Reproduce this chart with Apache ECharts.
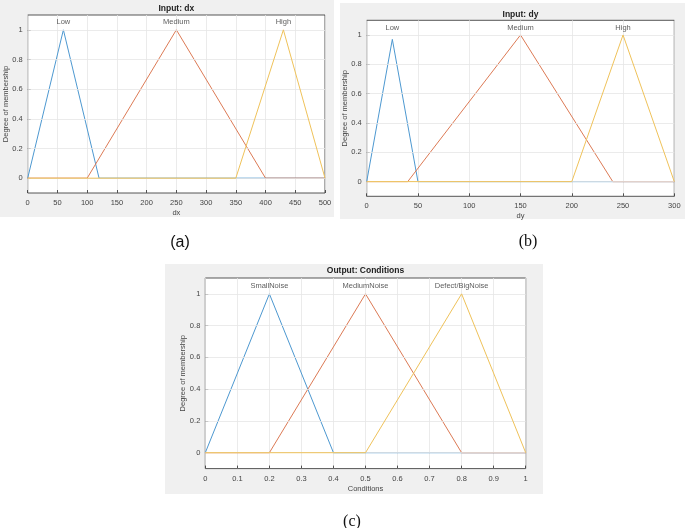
<!DOCTYPE html>
<html><head><meta charset="utf-8">
<script src="https://cdn.jsdelivr.net/npm/echarts@6/dist/echarts.min.js"></script>
<style>html,body{margin:0;padding:0;background:#fff}#c{width:685px;height:528px}</style>
</head><body><div id="c"></div>
<script>
// ---- data ----
const yTicks = [0, 0.2, 0.4, 0.6, 0.8, 1];
// panel (a) Input: dx
const dxLow = [[0,0],[60,1],[120,0],[500,0]];
const dxMedium = [[0,0],[100,0],[250,1],[400,0],[500,0]];
const dxHigh = [[0,0],[350,0],[430,1],[500,0]];
const dxLabels = [[60,1.05,'Low'],[250,1.05,'Medium'],[430,1.05,'High']];
// panel (b) Input: dy
const dyLow = [[0,0],[25,0.97],[50,0],[300,0]];
const dyMedium = [[0,0],[40,0],[150,1],[240,0],[300,0]];
const dyHigh = [[0,0],[200,0],[250,1],[300,0]];
const dyLabels = [[25,1.05,'Low'],[150,1.05,'Medium'],[250,1.05,'High']];
// panel (c) Output: Conditions
const cSmall = [[0,0],[0.2,1],[0.4,0],[1,0]];
const cMedium = [[0,0],[0.2,0],[0.5,1],[0.8,0],[1,0]];
const cDefect = [[0,0],[0.5,0],[0.8,1],[1,0]];
const cLabels = [[0.2,1.05,'SmallNoise'],[0.5,1.05,'MediumNoise'],[0.8,1.05,'Defect/BigNoise']];

const panels = [
  {title:'Input: dx', xName:'dx', xMin:0, xMax:500, xInt:50, series:[dxLow,dxMedium,dxHigh], labels:dxLabels,
   titleY:9, grid:{left:27.7, top:15, width:297.3, height:178}},
  {title:'Input: dy', xName:'dy', xMin:0, xMax:300, xInt:50, series:[dyLow,dyMedium,dyHigh], labels:dyLabels,
   titleY:15, grid:{left:366.7, top:20.3, width:307.6, height:176}},
  {title:'Output: Conditions', xName:'Conditions', xMin:0, xMax:1, xInt:0.1, series:[cSmall,cMedium,cDefect], labels:cLabels,
   titleY:271, grid:{left:205.3, top:278, width:320.4, height:190.6}}
];
const colors = ['#4d98d0', '#dc7a55', '#efc25a'];
const font = 'Liberation Sans, Arial, sans-serif';

const grids = [], xAxes = [], yAxes = [], series = [], titles = [];
panels.forEach((p, i) => {
  grids.push(Object.assign({show:true, backgroundColor:'#fff', borderColor:'#2b2b2b', borderWidth:0.8,
    containLabel:false, outerBoundsMode:'none'}, p.grid));
  xAxes.push({type:'value', gridIndex:i, min:p.xMin, max:p.xMax, interval:p.xInt,
    name:p.xName, nameLocation:'middle', nameGap:16, nameMoveOverlap:false,
    nameTextStyle:{fontSize:7.5, color:'#444', fontFamily:font},
    axisLine:{show:false, onZero:false}, axisTick:{inside:true, length:3, lineStyle:{color:'#2b2b2b', width:0.8}},
    axisLabel:{fontSize:7.5, color:'#444', margin:6, fontFamily:font},
    splitLine:{show:true, lineStyle:{color:'#e6e6e6', width:0.8}}});
  yAxes.push({type:'value', gridIndex:i, min:-0.1, max:1.1,
    name:'Degree of membership', nameLocation:'middle', nameGap:18, nameRotate:90, nameMoveOverlap:false,
    nameTextStyle:{fontSize:7.5, color:'#444', fontFamily:font},
    axisLine:{show:false, onZero:false},
    axisTick:{inside:true, length:3, customValues:yTicks, lineStyle:{color:'#2b2b2b', width:0.8}},
    axisLabel:{fontSize:7.5, color:'#444', margin:5, customValues:yTicks, fontFamily:font},
    splitLine:{show:false}});
  // horizontal grid lines at tick values
  series.push({type:'line', xAxisIndex:i, yAxisIndex:i, data:[], silent:true, z:1,
    markLine:{silent:true, symbol:'none', label:{show:false},
      lineStyle:{color:'#e6e6e6', width:0.8, type:'solid'},
      data:yTicks.map(v => ({yAxis:v}))}});
  p.series.forEach((d, k) => {
    series.push({type:'line', xAxisIndex:i, yAxisIndex:i, data:d, showSymbol:false, symbol:'none',
      lineStyle:{color:colors[k], width:1}, itemStyle:{color:colors[k]}, z:3+k, animation:false});
  });
  series.push({type:'scatter', xAxisIndex:i, yAxisIndex:i, data:p.labels, symbolSize:0, z:10,
    label:{show:true, position:'inside', formatter:o => o.data[2], fontSize:7.5, color:'#333', fontFamily:font}});
  titles.push({text:p.title, left:p.grid.left + p.grid.width/2, textAlign:'center', padding:0,
    top:p.titleY - 5, textStyle:{fontSize:8.5, fontWeight:'bold', color:'#222', fontFamily:font}});
});

const chart = echarts.init(document.getElementById('c'), null, {renderer:'canvas'});
chart.setOption({
  animation:false,
  title:titles,
  grid:grids, xAxis:xAxes, yAxis:yAxes, series:series,
  graphic:[
    {type:'rect', shape:{x:0, y:0, width:334, height:217}, style:{fill:'#f0f0f0'}, z:-10, silent:true},
    {type:'rect', shape:{x:340, y:3, width:345, height:216}, style:{fill:'#f0f0f0'}, z:-10, silent:true},
    {type:'rect', shape:{x:165, y:264, width:378, height:230}, style:{fill:'#f0f0f0'}, z:-10, silent:true},
    {type:'text', x:180, y:243, style:{text:'(a)', fontSize:16, fontFamily:'Liberation Sans, Arial, sans-serif', fill:'#111', textAlign:'center', textVerticalAlign:'middle'}},
    {type:'text', x:528, y:242, style:{text:'(b)', fontSize:16, fontFamily:'Liberation Serif, Times New Roman, serif', fill:'#111', textAlign:'center', textVerticalAlign:'middle'}},
    {type:'text', x:352, y:522, style:{text:'(c)', fontSize:16, fontFamily:'Liberation Serif, Times New Roman, serif', fill:'#111', textAlign:'center', textVerticalAlign:'middle'}}
  ]
});
</script></body></html>
